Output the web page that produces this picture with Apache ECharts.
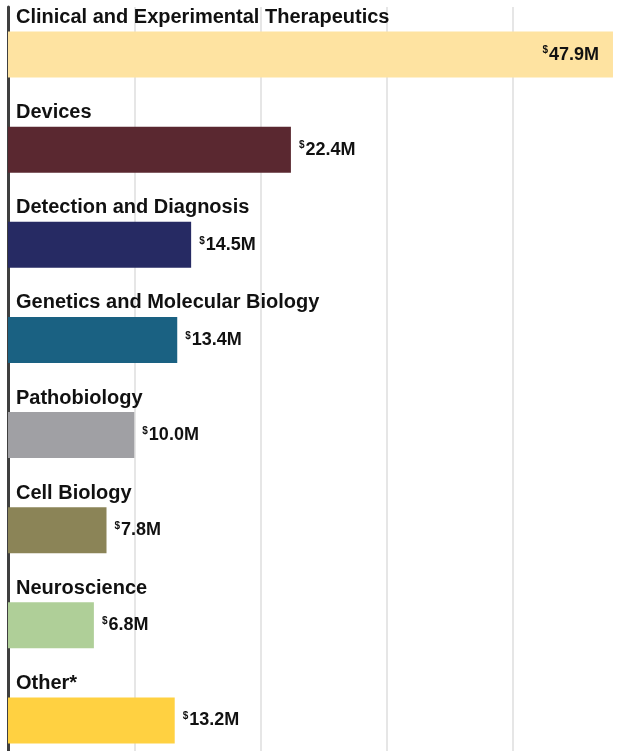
<!DOCTYPE html>
<html>
<head>
<meta charset="utf-8">
<script src="https://cdn.jsdelivr.net/npm/echarts@6/dist/echarts.min.js"></script>
<style>
  html, body { margin: 0; padding: 0; background: #fff; }
  #chart { width: 635px; height: 751px; }
</style>
</head>
<body>
<div id="chart"></div>
<script>
// funding by research area, in millions of dollars
const categories = [
  'Clinical and Experimental Therapeutics',
  'Devices',
  'Detection and Diagnosis',
  'Genetics and Molecular Biology',
  'Pathobiology',
  'Cell Biology',
  'Neuroscience',
  'Other*'
];
const amounts = [47.9, 22.4, 14.5, 13.4, 10.0, 7.8, 6.8, 13.2];
const barColors = ['#fee3a1', '#5a2830', '#262a63', '#1a6182', '#a0a0a4', '#8b8457', '#afcf98', '#ffd141'];

const FONT = '"Liberation Sans", Arial, sans-serif';

const chart = echarts.init(document.getElementById('chart'));

chart.setOption({
  animation: false,
  grid: { left: 8, right: -4.5, top: 7, bottom: -17, outerBoundsMode: 'none' },
  xAxis: {
    type: 'value',
    min: 0,
    max: 50,
    interval: 10,
    axisLabel: { show: false },
    axisLine: { show: false },
    axisTick: { show: false },
    splitLine: { lineStyle: { color: '#e6e6e6', width: 2 } }
  },
  yAxis: {
    type: 'category',
    inverse: true,
    data: categories,
    axisTick: { show: false },
    axisLabel: { show: false },
    axisLine: { lineStyle: { color: '#3f3f3f', width: 3 } }
  },
  series: [
    {
      type: 'bar',
      barWidth: 46,
      data: amounts.map((v, i) => {
        const item = { value: v, itemStyle: { color: barColors[i] } };
        // the longest bar carries its label inside
        if (i === 0) item.label = { position: 'insideRight', distance: 14 };
        return item;
      }),
      label: {
        show: true,
        position: 'right',
        distance: 8,
        formatter: p => '{s|$}{v|' + p.value.toFixed(1) + 'M}',
        rich: {
          s: { fontFamily: FONT, fontWeight: 'bold', fontSize: 10, color: '#111', verticalAlign: 'top', padding: [0, 1, 0, 0] },
          v: { fontFamily: FONT, fontWeight: 'bold', fontSize: 18, color: '#111' }
        }
      }
    },
    {
      // invisible twin bars that carry the category names above each bar
      type: 'bar',
      barWidth: 46,
      barGap: '-100%',
      silent: true,
      itemStyle: { color: 'rgba(0,0,0,0)' },
      data: amounts,
      label: {
        show: true,
        position: [8, -24],
        align: 'left',
        verticalAlign: 'top',
        formatter: p => categories[p.dataIndex],
        fontFamily: FONT,
        fontWeight: 'bold',
        fontSize: 20,
        color: '#111'
      }
    }
  ]
});
</script>
</body>
</html>
